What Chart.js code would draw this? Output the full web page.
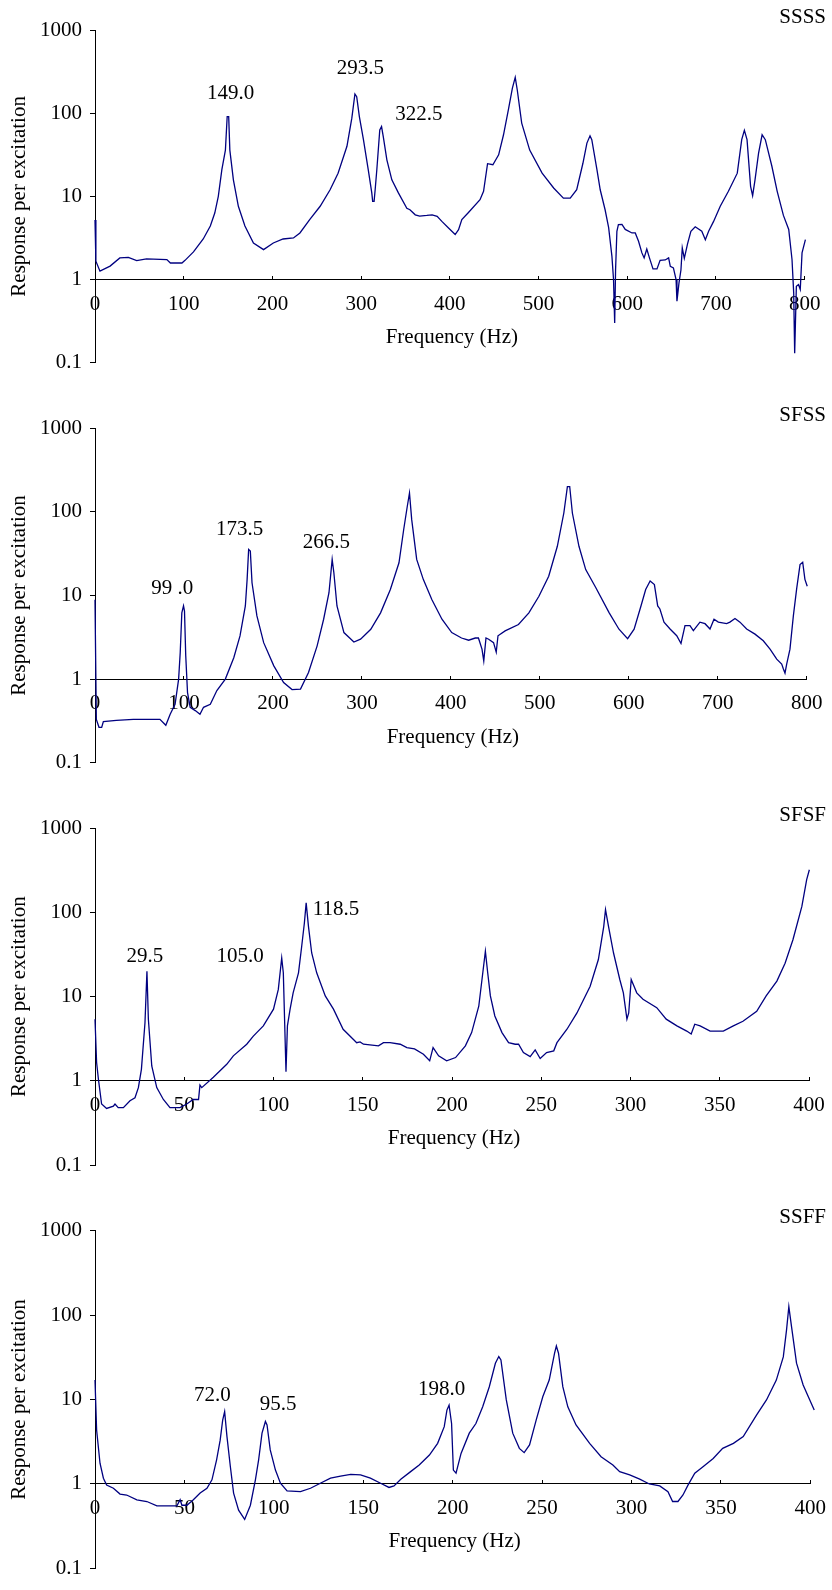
<!DOCTYPE html>
<html>
<head>
<meta charset="utf-8">
<script src="https://cdn.jsdelivr.net/npm/chart.js@4.4.1/dist/chart.umd.min.js"></script>
<style>
    body { margin: 0; background: #fff; }
    .panel { position: absolute; left: 0; }
</style>
</head>
<body>
<div class="panel" style="top:0px"><canvas id="ssssChart" width="832" height="398"></canvas></div>
<div class="panel" style="top:398px"><canvas id="sfssChart" width="832" height="400"></canvas></div>
<div class="panel" style="top:798px"><canvas id="sfsfChart" width="832" height="400"></canvas></div>
<div class="panel" style="top:1198px"><canvas id="ssffChart" width="832" height="392"></canvas></div>
<script>
// Response curves: frequency (Hz) and response per excitation
const yTicks = [0.1, 1, 10, 100, 1000];

const ssssFreq = [0, 1, 5.6, 17, 28, 37.6, 47, 58, 81, 85, 98, 101.5, 111, 122, 130, 135, 139, 143, 147, 149, 150.7, 152, 156, 161.6, 169, 178.6, 190, 201, 212, 223.7, 231, 242, 253.8, 265, 274, 284, 289.5, 293, 295, 298, 302.6, 308, 312, 313, 314.6, 315.8, 317.7, 321, 323, 325, 329, 334.6, 342, 351.5, 355, 361, 366, 374, 380, 385.7, 391, 398.5, 406, 409.8, 413.5, 421, 434, 438, 442.5, 448.5, 455, 460.5, 466, 470.5, 473.7, 476, 481, 490, 504, 517, 528, 535.7, 543, 550, 554.5, 558, 560, 565.8, 569.5, 575, 579, 582.7, 584.5, 585.8, 586.8, 588.3, 590, 594, 597.7, 605.3, 609, 612.7, 616.5, 619, 622, 625, 629, 633.5, 637, 642.8, 646.6, 648.5, 652, 655, 656, 658.3, 660.5, 662, 664.3, 668, 671.7, 676.6, 684, 688, 691.7, 697.3, 704.8, 714, 724, 729, 732, 735, 739, 741.3, 744, 748, 752, 755.6, 763, 769, 776, 782, 785.7, 787.6, 788.7, 790.6, 793, 795, 797, 800.8];
const ssssResp = [5.2, 1.66, 1.26, 1.45, 1.82, 1.85, 1.69, 1.77, 1.74, 1.58, 1.58, 1.7, 2.15, 3.07, 4.4, 6.3, 10, 21, 36, 91, 91, 36, 15.8, 7.6, 4.4, 2.75, 2.29, 2.75, 3.07, 3.16, 3.63, 5.25, 7.6, 12, 19, 40, 87, 170, 158, 91, 48, 21, 11, 8.7, 8.7, 12, 21, 63, 69, 52, 27.5, 15.8, 11, 7.2, 6.9, 6.0, 5.8, 5.9, 6.0, 5.75, 5.0, 4.17, 3.47, 3.98, 5.25, 6.4, 9.1, 11.5, 24.7, 24, 31.6, 55, 110, 200, 270, 190, 76, 36, 19, 12.6, 9.5, 9.5, 12, 25, 43.7, 53.5, 47.9, 21, 12, 6.9, 4.2, 1.9, 1.0, 0.3, 1.3, 3.8, 4.57, 4.6, 4.0, 3.63, 3.63, 2.88, 2.09, 1.82, 2.33, 1.82, 1.34, 1.34, 1.7, 1.72, 1.82, 1.44, 1.38, 1.0, 0.55, 0.91, 1.3, 2.4, 1.8, 2.7, 3.8, 4.3, 3.8, 3.0, 3.8, 5.0, 7.6, 11.5, 19, 48, 62, 48, 13.2, 10.2, 15.8, 33, 55, 48, 23, 11.5, 5.9, 4.0, 1.74, 0.69, 0.13, 0.83, 0.87, 0.76, 2.09, 3.02];

const sfssFreq = [0, 1.5, 4.5, 7.5, 9.4, 24, 43, 58, 73, 79.6, 84.5, 90, 94, 95.8, 97.6, 99.5, 100.6, 102, 104, 107, 112.7, 118, 122, 129.6, 137, 146.5, 156, 163, 169, 171, 172.7, 174.6, 176.5, 182, 189.6, 201, 212, 221.5, 231, 240, 249.7, 257, 263, 266.6, 268.5, 272, 279.8, 291, 298.5, 310, 321, 332, 341.7, 347, 351, 353.5, 356, 361.6, 369, 378.6, 390, 401, 412, 420, 427.5, 431, 435, 437, 439.5, 442.5, 448, 451, 453, 461, 476, 487.7, 499, 510, 519.7, 527, 531, 533.6, 536.6, 544, 551.6, 563, 578, 589, 598.7, 606, 613.7, 619, 624, 628.8, 632.5, 635, 639.6, 646.4, 653.9, 658.7, 663.2, 668.8, 672.6, 680, 685.7, 691.3, 695.8, 700.7, 710, 713.7, 719.4, 725, 732.5, 741.9, 751.2, 758.8, 766.3, 771.9, 773.8, 775.6, 777.5, 781.2, 785, 788.7, 792.5, 795.5, 798, 800.6];
const sfssResp = [8.9, 0.33, 0.265, 0.265, 0.31, 0.32, 0.33, 0.33, 0.33, 0.28, 0.38, 0.5, 1.0, 2.08, 6.2, 7.5, 6.5, 1.9, 0.69, 0.46, 0.42, 0.38, 0.46, 0.5, 0.73, 1.0, 1.8, 3.28, 7.5, 15.6, 35.5, 34, 14.2, 5.7, 2.73, 1.44, 0.91, 0.75, 0.76, 1.2, 2.5, 5.2, 10.8, 27, 18.7, 7.5, 3.6, 2.78, 3.0, 3.95, 6.2, 11.8, 24.6, 61.6, 116, 168, 80.8, 27, 15.6, 8.96, 5.2, 3.6, 3.1, 2.92, 3.1, 3.1, 2.28, 1.65, 3.1, 3.0, 2.73, 2.1, 3.3, 3.77, 4.5, 6.2, 9.8, 17, 38.8, 97, 201, 201, 97, 38.8, 20.4, 12.4, 6.2, 3.95, 3.05, 3.95, 7.5, 11.8, 14.9, 13.5, 7.5, 6.9, 4.8, 3.97, 3.3, 2.67, 4.35, 4.35, 3.8, 4.8, 4.6, 3.97, 5.2, 4.8, 4.6, 4.8, 5.3, 4.8, 3.97, 3.45, 2.87, 2.28, 1.73, 1.51, 1.32, 1.18, 1.51, 2.28, 5.7, 12, 23.4, 25, 15.6, 12.9];

const sfsfFreq = [0, 0.9, 1.9, 3.7, 6.5, 10.3, 11.2, 13, 15.9, 19.6, 22.4, 24.3, 26, 28, 29.1, 29.9, 31.8, 34.6, 38.3, 42, 47.6, 51.4, 55, 58, 58.8, 59.8, 66.3, 73.8, 77.5, 85, 88.7, 94.3, 100, 102.7, 104.6, 105.5, 107, 107.8, 109.3, 111, 114, 115.8, 117.3, 118.3, 119.6, 121.4, 124.2, 129, 133.6, 139, 144.8, 146.6, 148.5, 150.4, 158.8, 161.6, 165.3, 171, 174.7, 179, 184, 187.5, 189.4, 192.5, 197, 202, 207.5, 211, 215, 216.8, 218.7, 220, 221.5, 224, 228, 231.7, 235.4, 237.3, 240, 243.8, 246.6, 249.4, 253, 257, 258.8, 264.4, 270, 277.4, 282, 285, 286, 287.7, 290.5, 294, 296, 298, 299, 300.4, 303.5, 307, 314.7, 320, 326, 331.5, 334, 336, 339, 344.6, 352, 357.6, 363, 370.7, 376, 382, 386.6, 391, 396, 398.7, 400.2, 401, 402.4];
const sfsfResp = [5.4, 1.65, 1.05, 0.53, 0.47, 0.5, 0.53, 0.48, 0.48, 0.58, 0.63, 0.83, 1.37, 4.9, 20, 5.4, 1.5, 0.83, 0.6, 0.48, 0.48, 0.53, 0.6, 0.6, 0.89, 0.83, 1.1, 1.57, 1.98, 2.72, 3.4, 4.5, 7.1, 12.2, 28.8, 19.2, 1.28, 4.5, 7.1, 11.1, 19.2, 39.7, 75, 130, 68, 33, 19.2, 10.2, 7.1, 4.1, 3.1, 2.84, 2.9, 2.72, 2.6, 2.84, 2.84, 2.72, 2.48, 2.4, 2.07, 1.73, 2.48, 1.98, 1.73, 1.89, 2.6, 3.74, 7.7, 16, 34.6, 19.2, 10.2, 5.9, 3.74, 2.84, 2.72, 2.72, 2.17, 1.94, 2.33, 1.84, 2.17, 2.27, 2.84, 4.1, 6.4, 13.3, 27.6, 68, 108, 68, 33, 16, 11.1, 5.4, 6.4, 16, 11.1, 9.3, 7.4, 5.4, 4.5, 3.9, 3.6, 4.7, 4.5, 3.9, 3.9, 4.5, 5.1, 6.7, 10.2, 15.3, 25, 47.5, 118, 246, 322, 280, 203];

const ssffFreq = [0, 0.9, 2.8, 4.7, 6.5, 10.3, 14, 17.7, 23.4, 29, 34.6, 40.2, 45.8, 47.6, 48.6, 51.4, 55, 58.8, 62.6, 65.4, 68, 70, 71.4, 72.5, 73.8, 75.7, 77.5, 80.3, 83.7, 86.9, 89.7, 91.5, 93.4, 95.3, 96.2, 98, 100.9, 103.7, 107.4, 114.9, 120.5, 126, 131.7, 137.3, 143, 148.5, 154, 159.7, 164.4, 167.2, 171, 176.5, 181.3, 187, 191.6, 195.3, 196.8, 198, 199.4, 200.4, 201.9, 204.7, 209.3, 213, 216.8, 220.5, 223.9, 225.8, 227, 230, 233.6, 237.3, 240, 243, 246.7, 250.4, 254, 257, 258, 259.2, 261.6, 264.4, 269, 276.6, 283, 289.6, 293.4, 299, 304.6, 310, 315.8, 320.4, 323, 326, 328.8, 331.6, 335.4, 340, 345.7, 351, 357, 362.5, 370, 375.5, 381, 384.9, 386.7, 388, 389.5, 392.3, 396, 398.9, 402.2];
const ssffResp = [17, 4.36, 1.76, 1.17, 0.97, 0.89, 0.76, 0.74, 0.65, 0.62, 0.55, 0.55, 0.55, 0.65, 0.56, 0.56, 0.65, 0.78, 0.89, 1.12, 1.93, 3.3, 5.7, 7.2, 3.64, 1.6, 0.78, 0.49, 0.38, 0.56, 1.12, 1.93, 4.0, 5.5, 5.0, 2.53, 1.46, 1.02, 0.83, 0.81, 0.89, 1.02, 1.17, 1.24, 1.3, 1.28, 1.17, 1.02, 0.91, 0.95, 1.14, 1.4, 1.68, 2.2, 3.03, 4.77, 7.5, 8.6, 5.2, 1.46, 1.34, 2.3, 4.0, 5.2, 8.2, 14.2, 26.9, 32.3, 29.5, 9.9, 4.0, 2.64, 2.35, 2.9, 5.7, 10.8, 17, 35.4, 43, 35.4, 14.2, 8.2, 5.0, 3.03, 2.1, 1.68, 1.4, 1.28, 1.14, 1.0, 0.95, 0.81, 0.62, 0.62, 0.74, 0.97, 1.34, 1.6, 2.0, 2.64, 3.03, 3.64, 6.6, 9.9, 17, 32, 66.5, 126, 73, 27, 14.9, 10.8, 7.5];

// Peak labels (text, frequency, response where the text sits)
const ssssPeakText = ['149.0', '293.5', '322.5'];
const ssssPeakFreq = [153, 299, 365];
const ssssPeakResp = [174, 340, 97];
const sfssPeakText = ['99 .0', '173.5', '266.5'];
const sfssPeakFreq = [86.7, 162.5, 260];
const sfssPeakResp = [12, 61.5, 42.6];
const sfsfPeakText = ['29.5', '105.0', '118.5'];
const sfsfPeakFreq = [28, 81.3, 135];
const sfsfPeakResp = [30.2, 30.2, 110];
const ssffPeakText = ['72.0', '95.5', '198.0'];
const ssffPeakFreq = [65.6, 102.4, 193.8];
const ssffPeakResp = [11.3, 8.86, 13.2];

Chart.defaults.font.family = '"Liberation Serif", "Times New Roman", serif';
Chart.defaults.font.size = 21;
Chart.defaults.color = '#000';

function makePanel(canvasId, name, freq, resp, xMax, xStep, peakText, peakFreq, peakResp, pad) {
    const el = document.getElementById(canvasId);
    if (!el) return;

    // panel name, axis title and peak labels
    const textPlugin = {
        id: 'panelText',
        afterDraw(chart) {
            const ctx = chart.ctx;
            const x = chart.scales.x;
            const y = chart.scales.y;
            const area = chart.chartArea;
            ctx.save();
            ctx.font = '21px "Liberation Serif", "Times New Roman", serif';
            ctx.fillStyle = '#000';
            ctx.textBaseline = 'middle';
            ctx.textAlign = 'right';
            ctx.fillText(name, chart.width - 6, area.top - 13);
            ctx.textAlign = 'center';
            ctx.fillText('Frequency (Hz)', (area.left + area.right) / 2 + 2, y.getPixelForValue(1) + 58);
            peakText.forEach(function(t, i) {
                ctx.fillText(t, x.getPixelForValue(peakFreq[i]), y.getPixelForValue(peakResp[i]));
            });
            ctx.restore();
        }
    };

    new Chart(el, {
        type: 'line',
        data: {
            datasets: [{
                data: freq.map((f, i) => ({x: f, y: resp[i]})),
                borderColor: '#000080',
                borderWidth: 1.3,
                pointRadius: 0,
                tension: 0,
                fill: false,
                clip: false
            }]
        },
        options: {
            responsive: false,
            animation: false,
            layout: {
                padding: pad
            },
            plugins: {
                legend: { display: false },
                tooltip: { enabled: false }
            },
            scales: {
                x: {
                    type: 'linear',
                    min: 0,
                    max: xMax,
                    position: { y: 1 },
                    afterFit: function(scale) {
                        // labels at the ends must not shrink the plot area
                        scale.paddingLeft = 0;
                        scale.paddingRight = 0;
                    },
                    ticks: {
                        stepSize: xStep,
                        padding: 16,
                        maxRotation: 0,
                        autoSkip: false
                    },
                    grid: {
                        drawOnChartArea: false,
                        tickLength: -4,
                        color: '#000'
                    },
                    border: { color: '#000', width: 1 }
                },
                y: {
                    type: 'logarithmic',
                    min: 0.1,
                    max: 1000,
                    position: 'left',
                    afterBuildTicks: function(scale) {
                        scale.ticks = yTicks.map(v => ({value: v}));
                    },
                    afterFit: function(scale) {
                        scale.width = 95;
                    },
                    ticks: {
                        padding: 8,
                        callback: v => String(v)
                    },
                    grid: {
                        drawOnChartArea: false,
                        tickLength: 5,
                        color: '#000'
                    },
                    border: { color: '#000', width: 1 },
                    title: {
                        display: true,
                        text: 'Response per excitation',
                        padding: { top: 7, bottom: 0 }
                    }
                }
            }
        },
        plugins: [textPlugin]
    });
}

document.addEventListener('DOMContentLoaded', function() {
    makePanel('ssssChart', 'SSSS', ssssFreq, ssssResp, 800, 100, ssssPeakText, ssssPeakFreq, ssssPeakResp,
        {left: 0, right: 27.3, top: 30, bottom: 35.3});
    makePanel('sfssChart', 'SFSS', sfssFreq, sfssResp, 800, 100, sfssPeakText, sfssPeakFreq, sfssPeakResp,
        {left: 0, right: 25.3, top: 30.3, bottom: 35.3});
    makePanel('sfsfChart', 'SFSF', sfsfFreq, sfsfResp, 400, 50, sfsfPeakText, sfsfPeakFreq, sfsfPeakResp,
        {left: 0, right: 23, top: 30.3, bottom: 33});
    makePanel('ssffChart', 'SSFF', ssffFreq, ssffResp, 400, 50, ssffPeakText, ssffPeakFreq, ssffPeakResp,
        {left: 0, right: 21.7, top: 32.7, bottom: 21.6});
});
</script>
</body>
</html>
